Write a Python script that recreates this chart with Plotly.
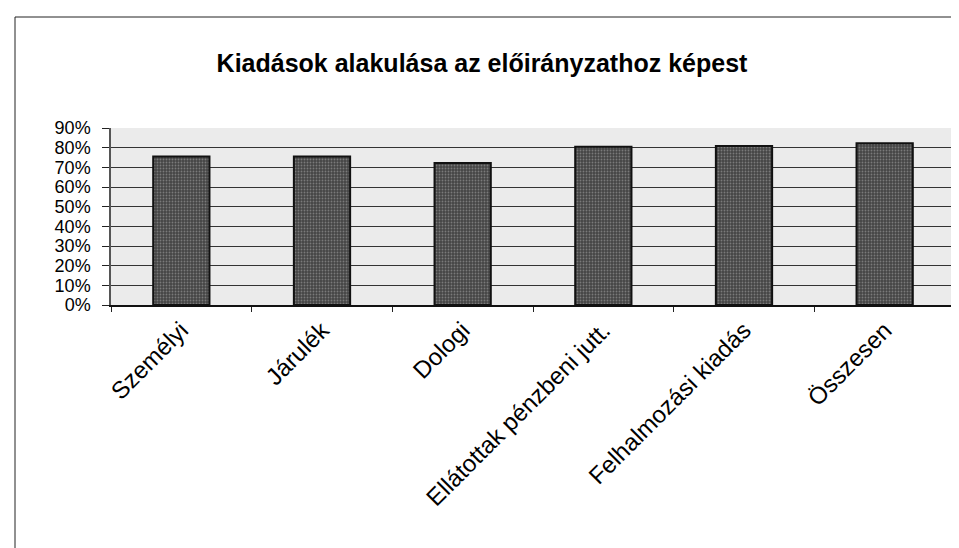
import plotly.graph_objects as go

categories = ["Személyi", "Járulék", "Dologi", "Ellátottak pénzbeni jutt.",
              "Felhalmozási kiadás", "Összesen"]
values = [0.755, 0.755, 0.722, 0.805, 0.808, 0.822]
y_ticks = [0, 0.1, 0.2, 0.3, 0.4, 0.5, 0.6, 0.7, 0.8, 0.9]
y_tick_labels = ["0%", "10%", "20%", "30%", "40%", "50%", "60%", "70%", "80%", "90%"]
title_text = "Kiadások alakulása az előirányzathoz képest"

W, H = 959, 548
L, R, T, B = 103, 12, 120, 251

fig = go.Figure()
fig.add_trace(go.Bar(
    x=categories, y=values,
    marker=dict(color="#4a4a4a", line=dict(color="#111111", width=2),
                pattern=dict(shape=".", fgcolor="#7a7a7a", bgcolor="#454545",
                             size=3, solidity=0.3, fillmode="replace")),
    width=0.4,
))

pw = W - L - R
ph = H - T - B
fig.add_shape(type="line", xref="paper", yref="paper",
              x0=(7 - L) / pw, x1=(W + 5 - L) / pw,
              y0=1 + (T - 9) / ph, y1=1 + (T - 9) / ph,
              line=dict(color="#222222", width=1))
fig.add_shape(type="line", xref="paper", yref="paper",
              x0=(7 - L) / pw, x1=(7 - L) / pw,
              y0=1 + (T - 9) / ph, y1=-(B + 5) / ph,
              line=dict(color="#222222", width=1))

fig.update_layout(
    width=W, height=H,
    margin=dict(l=L, r=R, t=T, b=B, autoexpand=False),
    paper_bgcolor="white",
    plot_bgcolor="#ebebeb",
    showlegend=False,
    font=dict(family="Liberation Sans, Arial, sans-serif", color="black"),
    title=dict(text="<b>" + title_text + "</b>", x=474 / W, xanchor="center",
               y=1 - 55 / H, yanchor="middle", yref="container",
               font=dict(size=25, color="black")),
    xaxis=dict(
        type="category", tickson="boundaries", ticks="outside", ticklen=5,
        tickcolor="#222", showgrid=False, showline=True, linecolor="#111",
        linewidth=1.5, tickangle=-45, tickfont=dict(size=24),
    ),
    yaxis=dict(
        range=[0, 0.9], tickvals=y_ticks, ticktext=y_tick_labels,
        ticks="outside", ticklen=7, tickcolor="#222",
        showgrid=True, gridcolor="#333333", gridwidth=1.2,
        showline=True, linecolor="#555", linewidth=1.5, mirror=True,
        tickfont=dict(size=18), ticklabelstandoff=8, zeroline=False,
    ),
)

fig.write_html("out.html")
